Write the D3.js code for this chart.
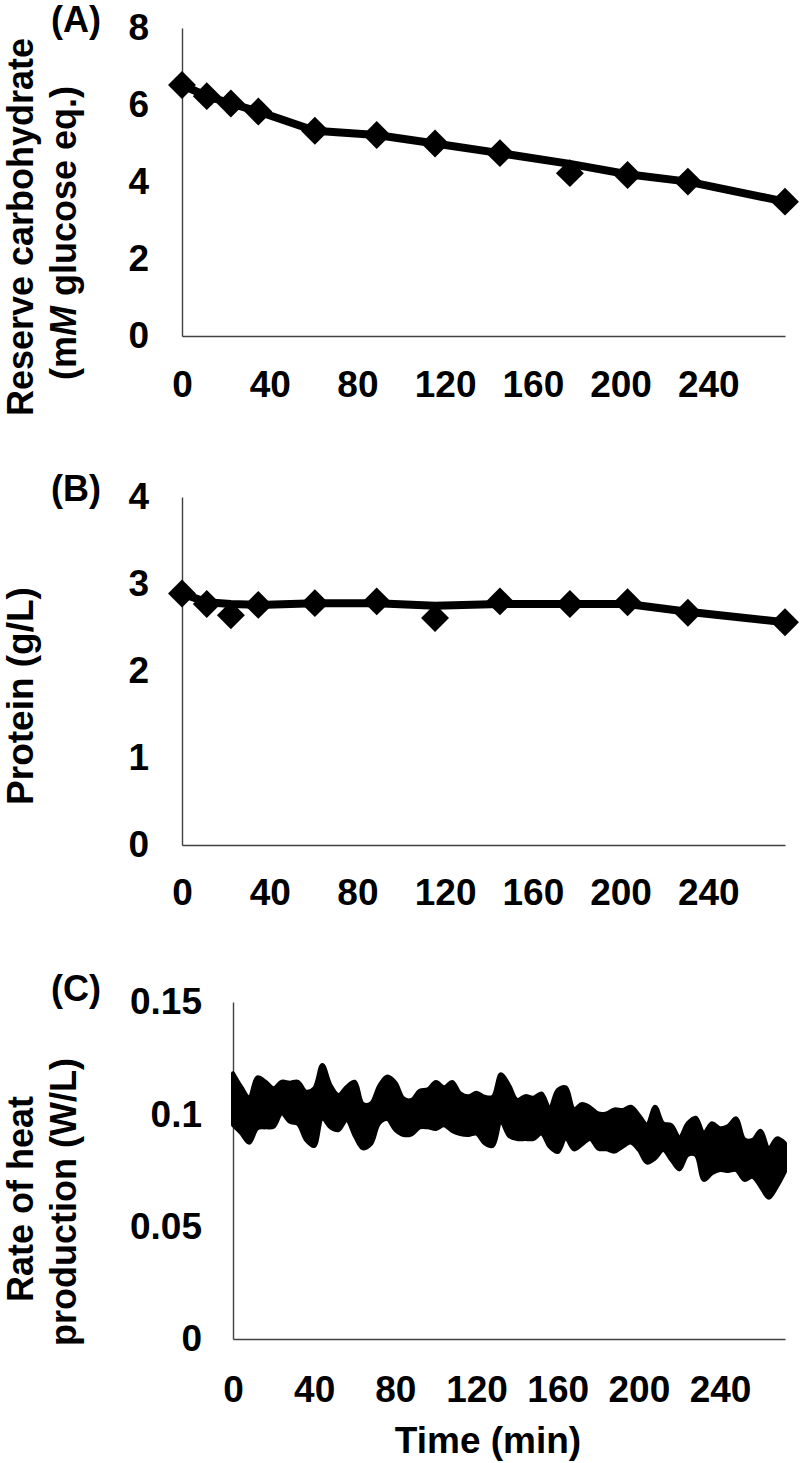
<!DOCTYPE html>
<html>
<head>
<meta charset="utf-8">
<script src="https://cdn.jsdelivr.net/npm/d3@7"></script>
<style>
  body { margin: 0; background: #fff; }
  text { font-family: "Liberation Sans", Arial, sans-serif; font-weight: bold; fill: #000; }
</style>
</head>
<body>
<div id="chart"></div>
<script>
// sampling times (min) for panels A and B
const sampleTimes = [0, 11.3, 22.3, 34.8, 60.6, 88.8, 115.4, 145, 176.9, 203.2, 230.7, 275];

// (A) reserve carbohydrate, mM glucose eq.
const carbPoints = [6.52, 6.23, 6.04, 5.83, 5.33, 5.22, 5.00, 4.75, 4.23, 4.18, 4.01, 3.49];
const carbLine   = [6.52, 6.23, 6.04, 5.83, 5.33, 5.22, 5.00, 4.75, 4.47, 4.20, 4.01, 3.49];

// (B) protein, g/L
const proteinPoints = [2.89, 2.77, 2.64, 2.76, 2.78, 2.80, 2.61, 2.80, 2.77, 2.79, 2.67, 2.56];
const proteinLine   = [2.89, 2.79, 2.77, 2.76, 2.78, 2.78, 2.75, 2.77, 2.77, 2.77, 2.68, 2.56];

// (C) rate of heat production, W/L (upper / lower edge of the noisy trace)
const heatTimes = [0, 4, 8, 12, 16, 20, 24, 28, 32, 36, 40, 44, 48, 52, 56, 60, 64, 68, 72, 76, 80, 84, 88,
  92, 96, 100, 104, 108, 112, 116, 120, 124, 128, 132, 136, 140, 144, 148, 152, 156, 160, 164, 168, 172, 176, 180,
  184, 188, 192, 196, 200, 204, 208, 212, 216, 220, 224, 228, 232, 236, 240, 244, 248, 252, 256, 260, 264, 268, 272];
const heatUpper = [0.1183, 0.1123, 0.1076, 0.1165, 0.1145, 0.1116, 0.1145, 0.1141, 0.1145, 0.1101, 0.1116, 0.1220,
  0.1131, 0.1086, 0.1123, 0.1145, 0.1046, 0.1049, 0.1126, 0.1168, 0.1142, 0.1071, 0.1064,
  0.1105, 0.1111, 0.1144, 0.1120, 0.1144, 0.1093, 0.1080, 0.1096, 0.1078, 0.1078, 0.1178, 0.1130, 0.1064, 0.1081,
  0.1074, 0.1093, 0.1029, 0.1108, 0.1120, 0.1024, 0.1046, 0.1031, 0.1004,
  0.1004, 0.1022, 0.1019, 0.1034, 0.0997, 0.0955, 0.1034, 0.0960, 0.0952, 0.0898, 0.0960, 0.0985, 0.0918, 0.0960,
  0.0938, 0.0948, 0.0982, 0.0889, 0.0886, 0.0927, 0.0849, 0.0893, 0.0871];
const heatLower = [0.0952, 0.0916, 0.0874, 0.0938, 0.0942, 0.0945, 0.1004, 0.0967, 0.0957, 0.0886, 0.0859, 0.0982,
  0.0942, 0.0930, 0.0975, 0.0904, 0.0849, 0.0868, 0.0960, 0.0979, 0.0930, 0.0908, 0.0911,
  0.0942, 0.0942, 0.0935, 0.0951, 0.0926, 0.0912, 0.0908, 0.0914, 0.0871, 0.0859, 0.0967, 0.0904, 0.0890, 0.0890,
  0.0890, 0.0914, 0.0856, 0.0832, 0.0893, 0.0844, 0.0867, 0.0890, 0.0847,
  0.0844, 0.0834, 0.0856, 0.0874, 0.0841, 0.0785, 0.0804, 0.0841, 0.0797, 0.0755, 0.0819, 0.0819, 0.0708, 0.0738,
  0.0752, 0.0748, 0.0752, 0.0708, 0.0722, 0.0678, 0.0629, 0.0678, 0.0745];

const timeTicks = [0, 40, 80, 120, 160, 200, 240];
const carbTicks = [0, 2, 4, 6, 8];
const proteinTicks = [0, 1, 2, 3, 4];
const heatTicks = [0, 0.05, 0.1, 0.15];

const width = 800;
const height = 1463;
const tickFont = "37px";
const titleFont = "36px";

const svg = d3.select("#chart")
  .append("svg")
  .attr("width", width)
  .attr("height", height);

const xAB = d3.scaleLinear().domain([0, 275]).range([182, 785]);
const yA = d3.scaleLinear().domain([0, 8]).range([336, 28]);
const yB = d3.scaleLinear().domain([0, 4]).range([845, 497]);
const xC = d3.scaleLinear().domain([0, 272]).range([233, 785]);
const yC = d3.scaleLinear().domain([0, 0.15]).range([1339, 1002]);

// axes, no tick marks, just the lines and the labels
const drawAxes = (xScale, yScale, yTicks, yFmt, xPad, yPad) => {
  const gx = svg.append("g")
    .attr("transform", `translate(0, ${yScale.range()[0]})`)
    .call(d3.axisBottom(xScale).tickValues(timeTicks).tickSize(0).tickPadding(xPad).tickFormat(d3.format("d")));
  const gy = svg.append("g")
    .attr("transform", `translate(${xScale.range()[0]}, 0)`)
    .call(d3.axisLeft(yScale).tickValues(yTicks).tickSize(0).tickPadding(yPad).tickFormat(yFmt));
  [gx, gy].forEach(g => {
    g.select(".domain").attr("stroke", "#404040").attr("stroke-width", 1.4);
    g.selectAll("text").style("font-size", tickFont).attr("fill", "#000");
  });
};

drawAxes(xAB, yA, carbTicks, d3.format("d"), 35, 33);
drawAxes(xAB, yB, proteinTicks, d3.format("d"), 34, 33);
drawAxes(xC, yC, heatTicks, d => d === 0 ? "0" : String(d), 37, 31);

// line + diamond markers
const drawSeries = (yScale, lineVals, pointVals) => {
  const line = d3.line()
    .x((d, i) => xAB(sampleTimes[i]))
    .y(d => yScale(d));
  svg.append("path")
    .datum(lineVals)
    .attr("d", line)
    .attr("fill", "none")
    .attr("stroke", "#000")
    .attr("stroke-width", 8)
    .attr("stroke-linejoin", "round");

  const diamond = d3.symbol().type(d3.symbolSquare).size(390);
  svg.append("g")
    .selectAll("path")
    .data(pointVals)
    .join("path")
      .attr("d", diamond)
      .attr("transform", (d, i) => `translate(${xAB(sampleTimes[i])}, ${yScale(d)}) rotate(45)`)
      .attr("fill", "#000");
};

drawSeries(yA, carbLine, carbPoints);
drawSeries(yB, proteinLine, proteinPoints);

// heat trace drawn as a filled band between its upper and lower edge
const band = d3.area()
  .x((d, i) => xC(heatTimes[i]))
  .y0((d, i) => yC(heatLower[i]))
  .y1((d, i) => yC(heatUpper[i]))
  .curve(d3.curveCatmullRom.alpha(0.5));

svg.append("path")
  .datum(heatUpper)
  .attr("d", band)
  .attr("fill", "#000")
  .attr("stroke", "#000")
  .attr("stroke-width", 4)
  .attr("stroke-linejoin", "round");

// panel letters
[["(A)", 32], ["(B)", 501], ["(C)", 1001]].forEach(([t, y]) => {
  svg.append("text")
    .attr("x", 76)
    .attr("y", y)
    .attr("text-anchor", "middle")
    .style("font-size", titleFont)
    .text(t);
});

// rotated y titles
const yTitle = (x, y, build) => {
  const t = svg.append("text")
    .attr("transform", `translate(${x}, ${y}) rotate(-90)`)
    .attr("text-anchor", "middle")
    .style("font-size", titleFont);
  build(t);
};

yTitle(33, 227, t => t.text("Reserve carbohydrate"));
yTitle(76, 233, t => {
  t.append("tspan").text("(m");
  t.append("tspan").style("font-style", "italic").text("M");
  t.append("tspan").text(" glucose eq.)");
});
yTitle(33, 696, t => t.style("font-size", "37px").text("Protein (g/L)"));
yTitle(33, 1199, t => t.text("Rate of heat"));
yTitle(76, 1202, t => t.text("production (W/L)"));

svg.append("text")
  .attr("x", 488)
  .attr("y", 1453)
  .attr("text-anchor", "middle")
  .style("font-size", "37px")
  .text("Time (min)");
</script>
</body>
</html>
